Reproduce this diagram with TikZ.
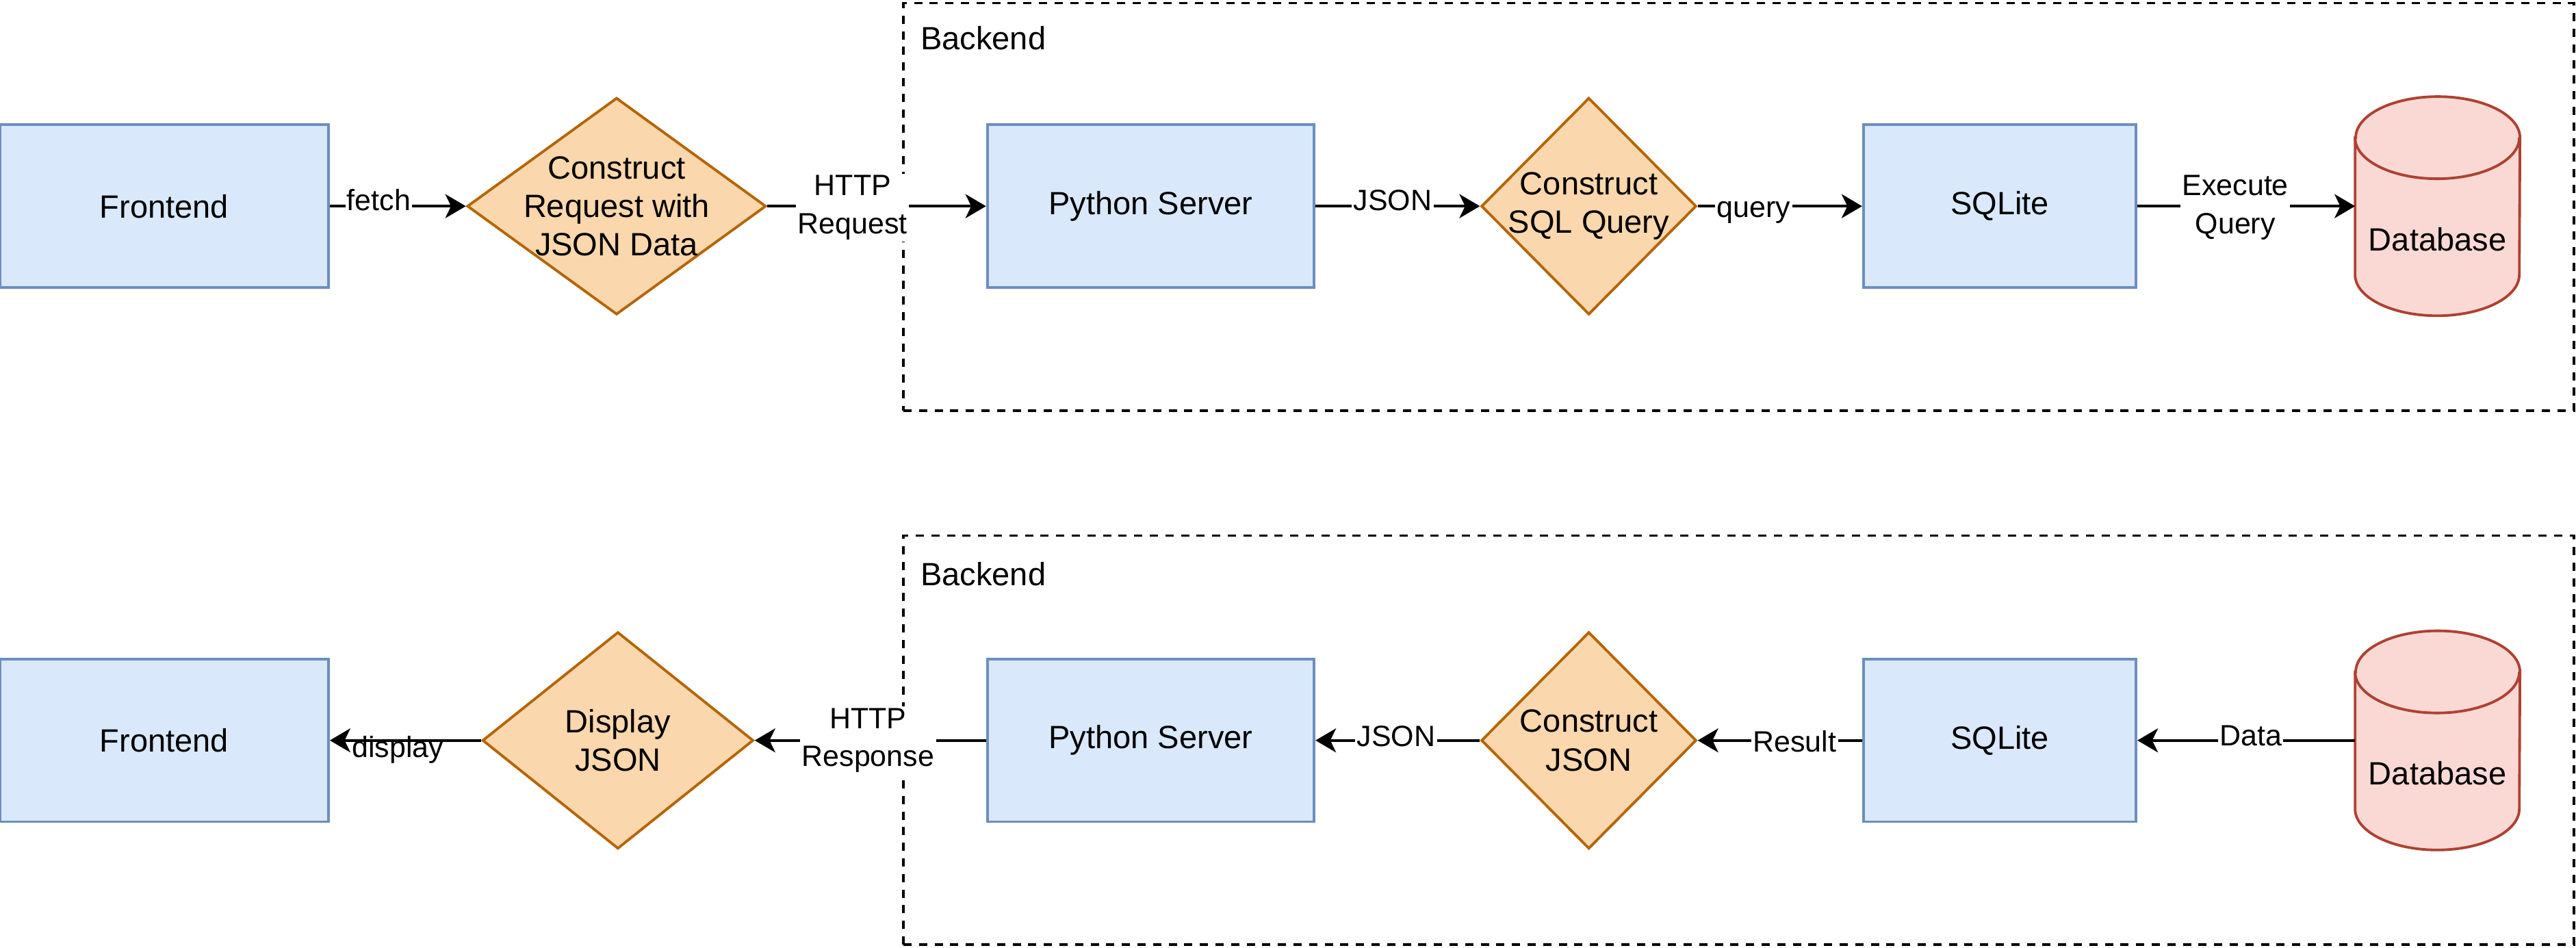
\documentclass[tikz,border=0pt]{standalone}
\usepackage{fontspec}
\setmainfont{Liberation Sans}
\usetikzlibrary{shapes.geometric,arrows.meta}
\definecolor{boxfill}{HTML}{DAE8FC}
\definecolor{boxline}{HTML}{6C8EBF}
\definecolor{decfill}{HTML}{FAD7AC}
\definecolor{decline}{HTML}{B46504}
\definecolor{dbfill}{HTML}{FAD9D5}
\definecolor{dbline}{HTML}{AE4132}
% cylinder drawn round an empty node
\newcommand{\dbcyl}[1]{%
  \filldraw[dbshape] ([yshift=-25pt]#1.north west) -- ([yshift=25pt]#1.south west)
    arc[start angle=180, end angle=360, x radius=50pt, y radius=25pt]
    -- ([yshift=-25pt]#1.north east)
    arc[start angle=0, end angle=180, x radius=50pt, y radius=25pt] -- cycle;
  \draw[dbshape, fill=none] ([yshift=-25pt]#1.north west)
    arc[start angle=180, end angle=360, x radius=50pt, y radius=25pt];}
\begin{document}
\begin{tikzpicture}[x=1pt, y=-1pt,
    every node/.style={font=\fontsize{19.6}{23.5}\selectfont},
    block/.style={draw=boxline, fill=boxfill, line width=1.6pt, minimum height=99pt, inner sep=0pt},
    decision/.style={diamond, draw=decline, fill=decfill, line width=1.6pt, minimum height=132pt, inner sep=0pt},
    store/.style={minimum width=100pt, minimum height=133pt, inner sep=0pt},
    dbshape/.style={draw=dbline, fill=dbfill, line width=1.6pt},
    group/.style={draw, dash pattern=on 5pt off 4.5pt, line width=1.4pt, inner sep=0pt},
    flow/.style={line width=1.5pt, -{Stealth[length=12.5pt, width=14.6pt, inset=3.5pt]}},
    elabel/.style={fill=white, inner sep=1pt, align=center, font=\fontsize{17.9}{23.3}\selectfont},
    oneline/.style={elabel, text height=0.75em, text depth=0.25em}]
    \useasboundingbox (0,0) rectangle (1568.33,576.67);

    % request path
    \node[group, minimum width=1017pt, minimum height=248pt] (back1) at (1058.5,126) {};
    \node[anchor=west, inner sep=0pt] (back1txt) at ([xshift=11pt, yshift=-22pt]back1.north west) {Backend};
    \node[block, minimum width=200pt] (front1) at (100,125.5) {Frontend};
    \node[decision, minimum width=182pt, label={[align=center]center:{Construct\\Request with\\JSON Data}}] (req1) at (375.4,125.5) {};
    \node[block, minimum width=199pt] (py1) at (700.6,125.5) {Python Server};
    \node[decision, minimum width=131pt, label={[align=center]center:{Construct\\SQL Query}}] (sql1) at (967.3,125.5) {};
    \node[block, minimum width=166pt] (lite1) at (1217.5,125.5) {SQLite};
    \node[store] (db1) at (1484,125.5) {};
    \dbcyl{db1}
    \node (db1txt) at ([yshift=-20pt]db1.center) {Database};

    \draw[flow] (front1) -- node[oneline, pos=.36] {fetch} (req1);
    \draw[flow] (req1) -- node[elabel, pos=.39, yshift=-1pt] {HTTP\\Request} (py1);
    \draw[flow] (py1) -- node[oneline, pos=.47] {JSON} (sql1);
    \draw[flow] (sql1) -- node[oneline, pos=.34, yshift=-4.4pt] {query} (lite1);
    \draw[flow] (lite1) -- node[elabel, pos=.45, yshift=-1pt] {Execute\\Query} (db1);

    % response path
    \node[group, minimum width=1017pt, minimum height=249pt] (back2) at (1058.5,450.5) {};
    \node[anchor=west, inner sep=0pt] (back2txt) at ([xshift=11pt, yshift=-24pt]back2.north west) {Backend};
    \node[block, minimum width=200pt] (front2) at (100,450.7) {Frontend};
    \node[decision, minimum width=165pt, label={[align=center]center:{Display\\JSON}}] (show2) at (376.2,450.7) {};
    \node[block, minimum width=199pt] (py2) at (700.6,450.7) {Python Server};
    \node[decision, minimum width=131pt, label={[align=center]center:{Construct\\JSON}}] (json2) at (967.3,450.7) {};
    \node[block, minimum width=166pt] (lite2) at (1217.5,450.7) {SQLite};
    \node[store] (db2) at (1484,450.7) {};
    \dbcyl{db2}
    \node (db2txt) at ([yshift=-20pt]db2.center) {Database};

    \draw[flow] (db2) -- node[oneline, pos=.48, yshift=-0.8pt] {Data} (lite2);
    \draw[flow] (lite2) -- node[oneline, pos=.41, yshift=-4.5pt] {Result} (json2);
    \draw[flow] (json2) -- node[oneline, pos=.51, yshift=-1.3pt] {JSON} (py2);
    \draw[flow] (py2) -- node[elabel, pos=.51] {HTTP\\Response} (show2);
    \draw[flow] (show2) -- node[oneline, pos=.55, yshift=-7.7pt] {display} (front2);
\end{tikzpicture}
\end{document}
